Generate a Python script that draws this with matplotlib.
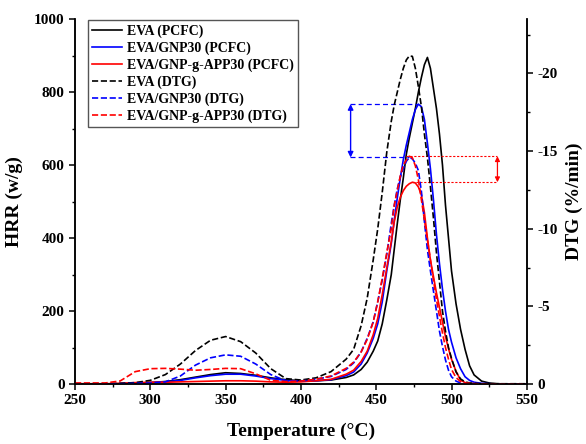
import matplotlib
matplotlib.use("Agg")
import matplotlib.pyplot as plt
from matplotlib.ticker import MultipleLocator

plt.rcParams['font.family'] = ['Liberation Serif', 'DejaVu Serif']
plt.rcParams['font.weight'] = 'bold'
plt.rcParams['axes.labelweight'] = 'bold'
plt.rcParams['axes.unicode_minus'] = False

# temperature grid shared by all curves (degC)
temp = [250, 260, 270, 280, 290, 300, 310, 320, 330, 340, 350, 360, 370, 380, 390,
        400, 410, 420, 430, 435, 440, 444, 448, 451, 454, 457, 460, 462, 464, 466,
        468, 470, 472, 474, 476, 478, 480, 482, 484, 486, 488, 490, 492, 494, 496,
        498, 500, 503, 506, 509, 512, 515, 520, 525, 530, 540, 550]

# PCFC heat release rate (W/g)
hrr_eva = [0, 0, 0, 1, 2, 4, 7, 12, 19, 26, 31, 29, 24, 17, 12,
           9, 9, 11, 18, 25, 40, 60, 90, 118, 165, 230, 300, 370, 440, 505,
           565, 630, 675, 715, 755, 800, 840, 875, 895, 865, 810, 755, 685, 600, 490,
           400, 310, 220, 150, 95, 50, 25, 8, 3, 1, 0, 0]
hrr_gnp = [0, 0, 0, 1, 2, 4, 6, 10, 17, 23, 27, 27, 22, 15, 10,
           8, 9, 12, 23, 33, 55, 85, 125, 165, 225, 310, 385, 450, 510, 565,
           615, 655, 690, 725, 752, 767, 760, 725, 660, 590, 505, 410, 330, 260, 200,
           150, 115, 72, 42, 20, 10, 5, 2, 1, 0, 0, 0]
hrr_app = [1, 1, 1, 2, 4, 5, 5, 6, 7, 8, 9, 9, 8, 6, 5,
           6, 9, 13, 27, 38, 62, 90, 135, 180, 245, 318, 390, 445, 485, 512,
           530, 542, 549, 553, 551, 540, 518, 470, 400, 340, 295, 250, 210, 170, 130,
           97, 68, 35, 11, 4, 2, 1, 0, 0, 0, 0, 0]

# DTG mass loss rate (%/min)
dtg_eva = [-0.02, -0.02, -0.02, -0.05, -0.09, -0.24, -0.61, -1.29, -2.16, -2.82, -3.06, -2.73, -2.00, -0.99, -0.35,
           -0.26, -0.40, -0.80, -1.60, -2.23, -3.76, -5.52, -7.99, -9.99, -12.34, -14.92, -16.92, -17.98, -18.80, -19.62,
           -20.33, -20.87, -21.13, -21.10, -20.33, -19.15, -17.86, -16.10, -14.57, -12.69, -10.69, -8.46, -6.58, -4.70, -3.41,
           -2.35, -1.65, -0.78, -0.33, -0.14, -0.07, -0.05, -0.02, -0.02, -0.02, -0.02, -0.02]
dtg_gnp = [-0.02, -0.02, -0.02, -0.02, -0.05, -0.07, -0.14, -0.52, -1.22, -1.69, -1.88, -1.79, -1.29, -0.61, -0.21,
           -0.19, -0.31, -0.49, -0.94, -1.36, -2.07, -2.94, -4.00, -5.29, -6.70, -8.34, -10.34, -11.52, -12.57, -13.33,
           -13.87, -14.34, -14.59, -14.50, -14.22, -13.75, -12.41, -10.46, -8.65, -7.29, -5.99, -4.70, -3.41, -2.42, -1.55,
           -0.89, -0.47, -0.19, -0.07, -0.02, -0.02, 0, 0, 0, 0, 0, 0]
dtg_app = [-0.07, -0.07, -0.07, -0.20, -0.80, -0.99, -1.01, -0.96, -0.89, -0.94, -1.01, -0.99, -0.66, -0.24, -0.16,
           -0.19, -0.31, -0.52, -1.01, -1.41, -2.07, -2.87, -4.00, -5.29, -6.82, -8.46, -9.99, -11.52, -12.46, -13.40,
           -14.10, -14.43, -14.67, -14.57, -14.05, -13.16, -11.87, -10.58, -9.28, -7.99, -6.70, -5.45, -4.35, -3.29, -2.35,
           -1.60, -0.94, -0.42, -0.16, -0.07, -0.05, -0.02, -0.02, 0, 0, 0, 0]

labels = ['EVA (PCFC)', 'EVA/GNP30 (PCFC)', 'EVA/GNP-g-APP30 (PCFC)',
          'EVA (DTG)', 'EVA/GNP30 (DTG)', 'EVA/GNP-g-APP30 (DTG)']
colors = ['black', '#0000ff', '#ff0000']

HRR_MAX = 1000
DTG_MAX = -23.5
scale = HRR_MAX / DTG_MAX  # HRR units per DTG unit

fig = plt.figure(figsize=(5.86, 4.44), dpi=100)
ax = fig.add_axes([0.128, 0.135, 0.771, 0.822])
ax2 = ax.twinx()

handles = []
for y, c, lab in zip([hrr_eva, hrr_gnp, hrr_app], colors, labels[:3]):
    h, = ax.plot(temp, y, color=c, lw=1.2, label=lab)
    handles.append(h)
for y, c, lab in zip([dtg_eva, dtg_gnp, dtg_app], colors, labels[3:]):
    h, = ax2.plot(temp, y, color=c, lw=1.2, ls='--', label=lab)
    handles.append(h)

ax.set_xlim(250, 550)
ax.set_ylim(0, HRR_MAX)
ax2.set_ylim(0, DTG_MAX)

# peak-difference markers
i_gnp = hrr_gnp.index(max(hrr_gnp))
j_gnp = dtg_gnp.index(min(dtg_gnp))
top_b = hrr_gnp[i_gnp]
low_b = dtg_gnp[j_gnp] * scale
x_b = 432.5
ax.plot([x_b, temp[i_gnp]], [top_b, top_b], color='#0000ff', lw=0.9, ls=(0, (4, 2.5)))
ax.plot([x_b, temp[j_gnp]], [low_b, low_b], color='#0000ff', lw=0.9, ls=(0, (4, 2.5)))
ax.annotate('', xy=(x_b + 0.5, low_b), xytext=(x_b + 0.5, top_b),
            arrowprops=dict(arrowstyle='<|-|>', color='#0000ff', lw=1.0,
                            mutation_scale=8, shrinkA=0, shrinkB=0))

i_app = hrr_app.index(max(hrr_app))
j_app = dtg_app.index(min(dtg_app))
top_r = dtg_app[j_app] * scale
low_r = hrr_app[i_app]
x_r = 530.5
ax.plot([temp[j_app] - 2, x_r], [top_r, top_r], color='#ff0000', lw=0.8, ls=(0, (2, 1.5)))
ax.plot([temp[i_app], x_r], [low_r, low_r], color='#ff0000', lw=0.8, ls=(0, (2, 1.5)))
ax.annotate('', xy=(x_r, low_r), xytext=(x_r, top_r),
            arrowprops=dict(arrowstyle='<|-|>', color='#ff0000', lw=0.9,
                            mutation_scale=7, shrinkA=0, shrinkB=0))

ax.xaxis.set_major_locator(MultipleLocator(50))
ax.xaxis.set_minor_locator(MultipleLocator(25))
ax.yaxis.set_major_locator(MultipleLocator(200))
ax.yaxis.set_minor_locator(MultipleLocator(100))
ax2.yaxis.set_major_locator(MultipleLocator(5))
ax2.yaxis.set_minor_locator(MultipleLocator(2.5))

for a in (ax, ax2):
    a.spines['top'].set_visible(False)
    for s in a.spines.values():
        s.set_linewidth(1.1)
    a.tick_params(which='major', direction='out', length=4, width=1.1, labelsize=11)
    a.tick_params(which='minor', direction='out', length=2.5, width=1.0)

ax.set_xlabel('Temperature (\u00b0C)', fontsize=14, labelpad=11)
ax.set_ylabel('HRR (w/g)', fontsize=14, labelpad=8)
ax2.set_ylabel('DTG (%/min)', fontsize=14, labelpad=6)

leg = ax2.legend(handles, labels, loc='upper left', bbox_to_anchor=(0.028, 0.997),
                 borderaxespad=0, fontsize=10, labelspacing=0.25, handlelength=2.2,
                 handletextpad=0.3, borderpad=0.3, fancybox=False, framealpha=1)
leg.get_frame().set_edgecolor('#555555')
leg.get_frame().set_linewidth(1.0)

fig.savefig('out.png', dpi=100)
